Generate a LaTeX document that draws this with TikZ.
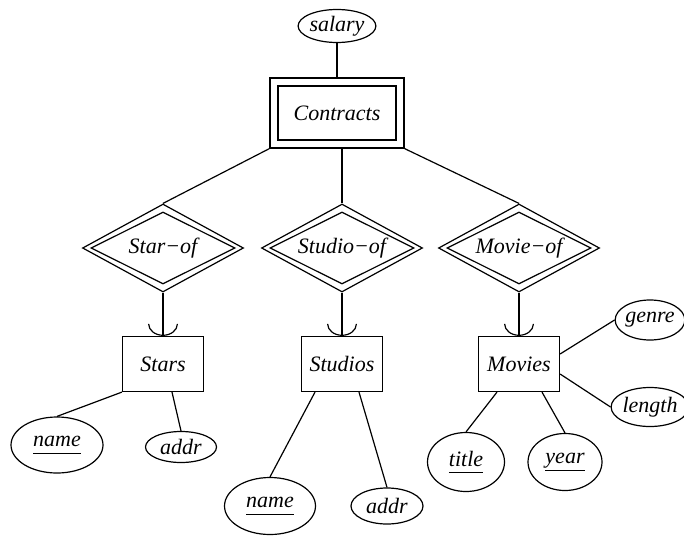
\documentclass[tikz,border=0pt]{standalone}
\usepackage{fontspec}
\setmainfont{Liberation Serif}
\usetikzlibrary{arrows.meta, positioning, shapes.geometric}
\newcommand{\keyatt}[1]{\underline{\textit{#1}\vphantom{y}}}

\begin{document}
\begin{tikzpicture}[x=1pt, y=1pt, on grid, line width=1.2pt,
            font=\fontsize{22}{26}\selectfont\itshape,
            entity/.style={draw, rectangle, inner sep=0pt,
                        minimum width=81pt, minimum height=55pt},
            attr/.style={draw, ellipse, inner sep=0pt},
            rel/.style={draw, diamond, aspect=2, inner sep=0pt},
            isa/.style={-{Arc Barb[width=30pt, length=12pt]}}]

            \useasboundingbox (0,0) rectangle (684,-535);

			% Weak entity set on top
			\node (contracts) [entity, minimum width=134pt, minimum height=70pt] at (337,-113) {};
			\node (contractsin) [entity, minimum width=118pt, minimum height=54pt] at (contracts) {Contracts};
			\node (salary) [attr, minimum width=74pt, minimum height=33pt, above=87pt of contracts] {salary};

			% Supporting relationships
			\node (studioof) [rel, minimum width=161pt, minimum height=88pt, below right=135pt and 5pt of contracts] {};
			\node (starof) [rel, minimum width=161pt, minimum height=88pt, left=179pt of studioof] {};
			\node (movieof) [rel, minimum width=161pt, minimum height=88pt, right=177pt of studioof] {};
			\node (studioofin) [rel, minimum width=144pt, minimum height=72pt] at (studioof) {Studio−of};
			\node (starofin) [rel, minimum width=144pt, minimum height=72pt] at (starof) {Star−of};
			\node (movieofin) [rel, minimum width=144pt, minimum height=72pt] at (movieof) {Movie−of};

			% Entity sets
			\node (stars) [entity, below=116pt of starof] {Stars};
			\node (studios) [entity, below=116pt of studioof] {Studios};
			\node (movies) [entity, below=116pt of movieof] {Movies};

			% Attributes
			\node (stname) [attr, minimum width=92pt, minimum height=56pt, below left=81pt and 106pt of stars] {\keyatt{name}};
			\node (staddr) [attr, minimum width=71pt, minimum height=31pt, below right=83pt and 18pt of stars] {addr};
			\node (sdname) [attr, minimum width=91pt, minimum height=57pt, below left=142pt and 72pt of studios] {\keyatt{name}};
			\node (sdaddr) [attr, minimum width=72pt, minimum height=36pt, below right=142pt and 45pt of studios] {addr};
			\node (mvtitle) [attr, minimum width=77pt, minimum height=59pt, below left=98pt and 53pt of movies] {\keyatt{title}};
			\node (mvyear) [attr, minimum width=74pt, minimum height=57pt, below right=98pt and 46pt of movies] {\keyatt{year}};
			\node (mvgenre) [attr, minimum width=67pt, minimum height=40pt, above right=44pt and 131pt of movies] {genre};
			\node (mvlength) [attr, minimum width=67pt, minimum height=39pt, below right=43pt and 131pt of movies] {length};

			% Lines
			\draw (salary) -- (contracts);
			\draw (contracts.south west) -- (starof.north);
			\draw (studioof.north |- contracts.south) -- (studioof.north);
			\draw (contracts.south east) -- (movieof.north);

			\draw[isa] (starof.south) -- (stars.north);
			\draw[isa] (studioof.south) -- (studios.north);
			\draw[isa] (movieof.south) -- (movies.north);

			\draw (stars.south west) -- (stname.north);
			\draw ([xshift=9pt]stars.south) -- (staddr.north);
			\draw ([xshift=-27pt]studios.south) -- (sdname.north);
			\draw ([xshift=17pt]studios.south) -- (sdaddr.north);
			\draw ([xshift=-22pt]movies.south) -- (mvtitle.north);
			\draw ([xshift=23pt]movies.south) -- (mvyear.north);
			\draw ([yshift=10pt]movies.east) -- (mvgenre.west);
			\draw ([yshift=-10pt]movies.east) -- (mvlength.west);

		\end{tikzpicture}
\end{document}
